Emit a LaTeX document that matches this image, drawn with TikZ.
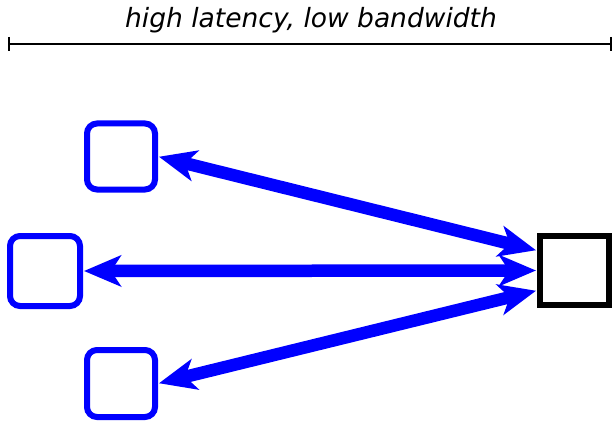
\documentclass[tikz,border=0pt]{standalone}
\usepackage{fontspec}
\setmainfont{DejaVu Sans}
\usetikzlibrary{arrows.meta}
\begin{document}
\begin{tikzpicture}[x=1pt,y=1pt,
  bluebox/.style={draw=blue,line width=6pt,rounded corners=10pt,minimum width=68pt,minimum height=66pt,inner sep=0pt},
  blackbox/.style={draw=black,line width=6pt,minimum width=69pt,minimum height=69pt,inner sep=0pt},
  link/.style={draw=blue,line width=12.5pt,{Stealth[length=37pt,width=31pt,inset=10pt]}-{Stealth[length=37pt,width=31pt,inset=10pt]},shorten <=1pt,shorten >=1pt}]
\useasboundingbox (0,0) rectangle (612,-422);
\node[font=\itshape\fontsize{26.5}{30}\selectfont] (t) at (311,-20) {high latency, low bandwidth};
\coordinate (l) at (9,-44);
\coordinate (r) at (611,-44);
\draw[line width=2.4pt] (l) -- (r);
\draw[line width=2.4pt] ([yshift=7pt]l) -- ([yshift=-7pt]l);
\draw[line width=2.4pt] ([yshift=7pt]r) -- ([yshift=-7pt]r);
\node[bluebox] (a) at (121,-156.5) {};
\node[bluebox,minimum width=70pt,minimum height=70pt] (b) at (45,-271) {};
\node[bluebox,minimum height=67pt] (c) at (121,-383.5) {};
\node[blackbox] (k) at (574.5,-270.5) {};
\draw[link] (a.east) -- ([yshift=20pt]k.west);
\draw[link] (b.east) -- (k.west);
\draw[link] (c.east) -- ([yshift=-20pt]k.west);
\end{tikzpicture}
\end{document}
